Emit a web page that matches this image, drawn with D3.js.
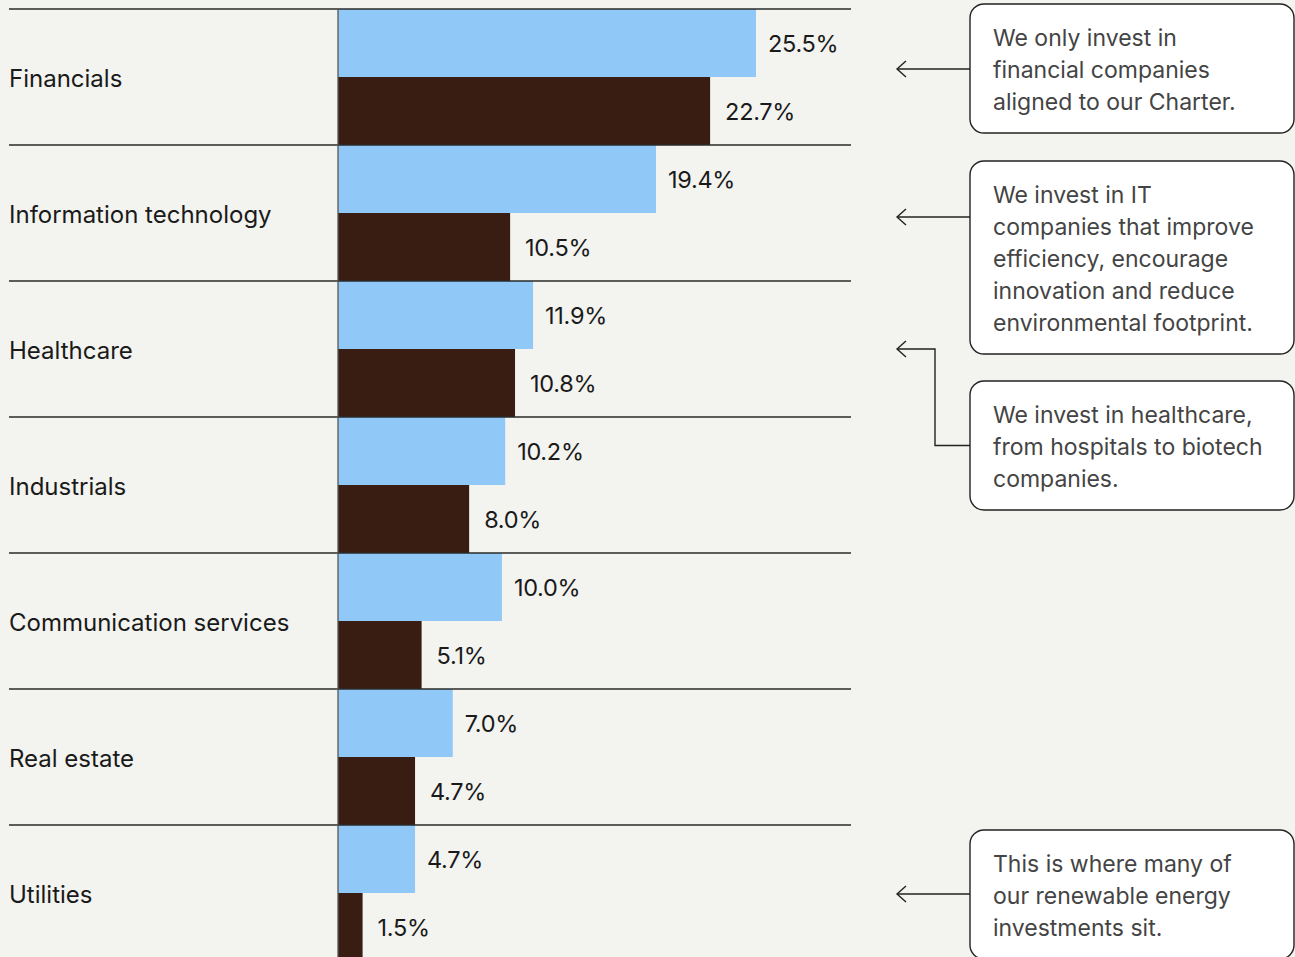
<!DOCTYPE html>
<html>
<head>
<meta charset="utf-8">
<script src="https://cdn.jsdelivr.net/npm/d3@7"></script>
<style>
  html, body { margin: 0; padding: 0; background: #f3f3ef; }
  svg { display: block; font-family: Inter, "Noto Sans", sans-serif; }
</style>
</head>
<body>
<svg id="chart" width="1295" height="957"></svg>
<script>
const categories = ['Financials', 'Information technology', 'Healthcare', 'Industrials',
  'Communication services', 'Real estate', 'Utilities'];
const fundValues = [25.5, 19.4, 11.9, 10.2, 10.0, 7.0, 4.7];
const indexValues = [22.7, 10.5, 10.8, 8.0, 5.1, 4.7, 1.5];

const notes = [
  { category: 'Financials', lines: ['We only invest in', 'financial companies', 'aligned to our Charter.'] },
  { category: 'Information technology', lines: ['We invest in IT', 'companies that improve', 'efficiency, encourage', 'innovation and reduce', 'environmental footprint.'] },
  { category: 'Healthcare', lines: ['We invest in healthcare,', 'from hospitals to biotech', 'companies.'] },
  { category: 'Utilities', lines: ['This is where many of', 'our renewable energy', 'investments sit.'] }
];

const svg = d3.select('#chart');
const left = 338, rowTop = 9, rowH = 136, lineRight = 851;

const x = d3.scaleLinear().domain([0, 25.5]).range([left, 756]);
const y = d3.scaleBand().domain(categories).range([rowTop, rowTop + rowH * categories.length]);
const half = y.bandwidth() / 2;

const rows = categories.map((c, i) => ({ c, a: fundValues[i], b: indexValues[i] }));

// bars
const g = svg.append('g');
g.selectAll('rect.fund').data(rows).join('rect')
  .attr('x', x(0)).attr('y', d => y(d.c))
  .attr('width', d => x(d.a) - x(0)).attr('height', half)
  .attr('fill', '#90c9f8');
g.selectAll('rect.index').data(rows).join('rect')
  .attr('x', x(0)).attr('y', d => y(d.c) + half)
  .attr('width', d => x(d.b) - x(0)).attr('height', half)
  .attr('fill', '#3a1d12');

// row separators
g.selectAll('line.row').data(categories).join('line')
  .attr('x1', 9).attr('x2', lineRight)
  .attr('y1', d => y(d)).attr('y2', d => y(d))
  .attr('stroke', '#2a2a2a').attr('stroke-width', 1.3);

// vertical axis line
svg.append('line')
  .attr('x1', left).attr('x2', left)
  .attr('y1', rowTop).attr('y2', 957)
  .attr('stroke', '#555').attr('stroke-width', 1.3);

// category labels
g.selectAll('text.cat').data(categories).join('text')
  .attr('x', 9).attr('y', d => y(d) + half + 2)
  .attr('dy', '0.35em')
  .attr('font-size', 24).attr('fill', '#1a1a1a')
  .text(d => d);

// value labels
const fmt = d3.format('.1f');
g.selectAll('text.va').data(rows).join('text')
  .attr('x', d => x(d.a) + 12).attr('y', d => y(d.c) + half / 2 + 1)
  .attr('dy', '0.35em').attr('font-size', 23.5).attr('fill', '#1a1a1a')
  .attr('letter-spacing', -0.3)
  .text(d => fmt(d.a) + '%');
g.selectAll('text.vb').data(rows).join('text')
  .attr('x', d => x(d.b) + 15).attr('y', d => y(d.c) + half * 1.5 + 1)
  .attr('dy', '0.35em').attr('font-size', 23.5).attr('fill', '#1a1a1a')
  .attr('letter-spacing', -0.3)
  .text(d => fmt(d.b) + '%');

// annotation boxes
const boxX = 970, boxW = 324, lh = 32, arrowX = 897;
const boxTops = [4, 161, 381, 830];
const arrowShift = [-8, 4, 0, 1];
notes.forEach((n, i) => {
  const top = boxTops[i];
  const h = 65 + (n.lines.length - 1) * lh;
  const ng = svg.append('g');
  ng.append('rect')
    .attr('x', boxX).attr('y', top).attr('width', boxW).attr('height', h)
    .attr('rx', 14).attr('fill', '#fff').attr('stroke', '#222').attr('stroke-width', 1.4);
  ng.selectAll('text').data(n.lines).join('text')
    .attr('x', 993).attr('y', (d, j) => top + 34 + j * lh)
    .attr('dy', '0.35em').attr('font-size', 23).attr('fill', '#444')
    .text(d => d);

  const ay = y(n.category) + half + arrowShift[i];
  const boxMid = top + h / 2;
  const path = (ay > top + 10 && ay < top + h - 10)
    ? `M${arrowX},${ay}H${boxX}`
    : `M${arrowX},${ay}H935V${boxMid}H${boxX}`;
  ng.append('path').attr('d', path)
    .attr('fill', 'none').attr('stroke', '#222').attr('stroke-width', 1.4);
  ng.append('path')
    .attr('d', `M${arrowX + 9},${ay - 8}L${arrowX},${ay}L${arrowX + 9},${ay + 8}`)
    .attr('fill', 'none').attr('stroke', '#222').attr('stroke-width', 1.4);
});
</script>
</body>
</html>
